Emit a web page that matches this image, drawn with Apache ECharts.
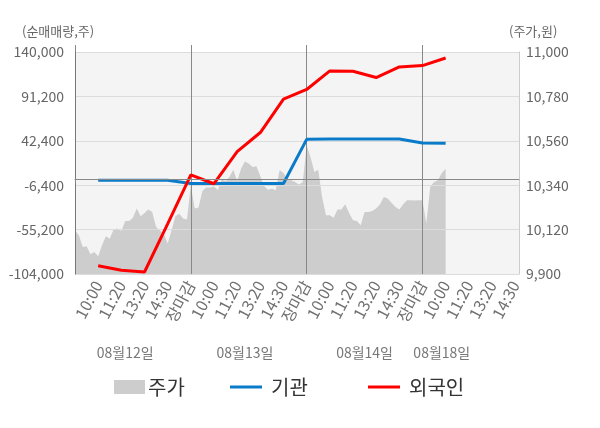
<!DOCTYPE html>
<html>
<head>
<meta charset="utf-8">
<title>순매매량 차트</title>
<script src="https://cdn.jsdelivr.net/npm/echarts@6/dist/echarts.min.js"></script>
<style>
  html, body { margin: 0; padding: 0; background: #fff; }
  #chart { width: 600px; height: 428px; }
</style>
</head>
<body>
<div id="chart"></div>
<script>
// trading days and the session tick labels of each day
const dates = ['08월12일', '08월13일', '08월14일', '08월18일'];
const sessionLabels = ['10:00', '11:20', '13:20', '14:30', '장마감'];

// share price (won), one value per slot from the first open
const price = [
  10116, 10092, 10034, 10037, 9998, 10009, 9988, 10042, 10087, 10075,
  10121, 10125, 10113, 10163, 10163, 10179, 10224, 10186, 10202, 10219,
  10207, 10133, 10116, 10100, 10051, 10116, 10186, 10199, 10175, 10170,
  10340, 10225, 10229, 10311, 10328, 10328, 10334, 10315, 10369, 10361,
  10381, 10417, 10361, 10422, 10458, 10447, 10430, 10434, 10384, 10335,
  10318, 10323, 10315, 10414, 10400, 10368, 10364, 10356, 10344, 10356,
  10538, 10480, 10406, 10417, 10282, 10191, 10191, 10179, 10219, 10219,
  10245, 10202, 10166, 10163, 10141, 10207, 10207, 10212, 10224, 10245,
  10282, 10274, 10252, 10232, 10219, 10245, 10265, 10265, 10264, 10265,
  10265, 10150, 10331, 10356, 10364, 10400, 10422
];

// cumulative net buying (shares) at each session label
const institution = [-1000, -1000, -1000, -1000, -4600, -4500, -4500, -4500, -4500,
  44000, 44300, 44300, 44300, 44300, 39900, 39600];
const foreigner = [-94900, -99800, -101800, -49000, 4900, -4800, 30400, 51500, 88200,
  98800, 119200, 118800, 111900, 123600, 125100, 133400];

const leftTicks = { min: -104000, max: 140000, step: 48800 };
const rightTicks = { min: 9900, max: 11000, step: 220 };
const axisNames = ['(순매매량,주)', '(주가,원)'];

const FONT = 'Noto Sans CJK KR';
const perLabel = 6;
const perDay = perLabel * sessionLabels.length;
const totalSlots = 116;
const dateLabelAt = [13, 44, 75, 95];

const categories = [];
for (let i = 0; i < totalSlots; i++) {
  categories.push(dates[Math.floor(i / perDay)] + '-' + (i % perDay));
}
function slotLabel(i) {
  if (i === 0 || i % perLabel !== 0) return '';
  return sessionLabels[(i / perLabel - 1) % sessionLabels.length];
}
const lastSlot = institution.length * perLabel;
const toPairs = arr => arr.map((v, k) => [(k + 1) * perLabel, v]);
const comma = v => Number(v).toLocaleString('en-US');

const chart = echarts.init(document.getElementById('chart'));

const nameStyle = { fontSize: 13, fontWeight: 'normal', color: '#666', fontFamily: FONT };

const option = {
  animation: false,
  textStyle: { fontFamily: FONT },
  title: [
    { text: axisNames[0], left: 22, top: 25, padding: 0, textStyle: nameStyle },
    { text: axisNames[1], left: 509, top: 25, padding: 0, textStyle: nameStyle }
  ],
  grid: {
    left: 75, right: 81, top: 52, bottom: 154,
    show: true, backgroundColor: '#f4f4f4', borderWidth: 0
  },
  legend: [
    { data: [{ name: '주가', icon: 'rect' }], left: 109, top: 372, itemWidth: 31, itemHeight: 14,
      selectedMode: false, textStyle: { fontSize: 20, color: '#333', fontFamily: FONT, padding: [0, 0, 0, -2] } },
    { data: [{ name: '기관', icon: 'rect' }], left: 225, top: 372, itemWidth: 32, itemHeight: 3,
      selectedMode: false, textStyle: { fontSize: 20, color: '#333', fontFamily: FONT, padding: [0, 0, 0, 4] } },
    { data: [{ name: '외국인', icon: 'rect' }], left: 363, top: 372, itemWidth: 32, itemHeight: 3,
      selectedMode: false, textStyle: { fontSize: 20, color: '#333', fontFamily: FONT, padding: [0, 0, 0, 4] } }
  ],
  xAxis: [
    {
      type: 'category', data: categories, boundaryGap: false, z: 2,
      axisLine: { show: true, lineStyle: { color: '#888', width: 1 } },
      axisTick: { show: true, length: 4, interval: i => i % perDay === 0, lineStyle: { color: '#888' } },
      splitLine: { show: true, interval: i => i > 0 && i % perDay === 0, lineStyle: { color: '#888', width: 1 } },
      axisLabel: {
        interval: i => slotLabel(i) !== '',
        formatter: (v, i) => slotLabel(i),
        rotate: 62, margin: 8, fontSize: 16, fontFamily: FONT,
        color: (v, i) => slotLabel(i) === '장마감' ? '#ff0000' : (i === lastSlot ? '#222' : '#707070')
      }
    },
    {
      type: 'category', data: categories, boundaryGap: false, position: 'top',
      axisLine: { show: false },
      axisTick: { show: true, length: 7, interval: i => i % perDay === 0, lineStyle: { color: '#888' } },
      axisLabel: { show: false }, splitLine: { show: false }
    },
    {
      type: 'category', data: categories, boundaryGap: false, position: 'bottom',
      axisLine: { show: false }, axisTick: { show: false }, splitLine: { show: false },
      axisLabel: {
        interval: i => dateLabelAt.indexOf(i) >= 0,
        formatter: (v, i) => dates[dateLabelAt.indexOf(i)] || '',
        margin: 72, fontSize: 14, color: '#777', fontFamily: FONT
      }
    }
  ],
  yAxis: [
    {
      type: 'value', position: 'left', z: 2,
      min: leftTicks.min, max: leftTicks.max, interval: leftTicks.step,
      axisLine: { show: true, lineStyle: { color: '#777', width: 1 } },
      axisTick: { show: false },
      axisLabel: { fontSize: 14, color: '#666', margin: 11, formatter: comma, fontFamily: FONT },
      splitLine: { show: true, lineStyle: { color: '#dcdcdc', width: 1 } }
    },
    {
      type: 'value', position: 'right', z: 2,
      min: rightTicks.min, max: rightTicks.max, interval: rightTicks.step,
      axisLine: { show: true, lineStyle: { color: '#ccc', width: 1 } },
      axisTick: { show: false },
      axisLabel: { fontSize: 14, color: '#666', margin: 7, formatter: comma, fontFamily: FONT },
      splitLine: { show: false }
    }
  ],
  series: [
    {
      name: '주가', type: 'line', xAxisIndex: 0, yAxisIndex: 1, z: 1,
      data: price, symbol: 'none', silent: true,
      itemStyle: { color: '#cdcdcd' },
      lineStyle: { width: 0, color: '#cdcdcd' },
      areaStyle: { color: '#cdcdcd', opacity: 1, origin: 'start' }
    },
    {
      name: '기관', type: 'line', xAxisIndex: 0, yAxisIndex: 0, z: 3,
      data: toPairs(institution), symbol: 'none', connectNulls: true,
      itemStyle: { color: '#0a7bc9' },
      lineStyle: { width: 3, color: '#0a7bc9' },
      markLine: {
        silent: true, symbol: ['none', 'none'], animation: false,
        label: { show: false },
        lineStyle: { color: '#888', width: 1, type: 'solid' },
        data: [{ yAxis: 0 }]
      }
    },
    {
      name: '외국인', type: 'line', xAxisIndex: 0, yAxisIndex: 0, z: 4,
      data: toPairs(foreigner), symbol: 'none', connectNulls: true,
      itemStyle: { color: '#ff0000' },
      lineStyle: { width: 3, color: '#ff0000' }
    }
  ]
};

chart.setOption(option);
</script>
</body>
</html>
